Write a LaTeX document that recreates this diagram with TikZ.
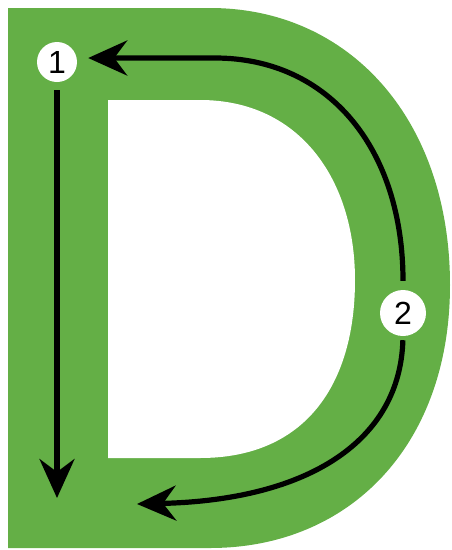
\documentclass[tikz,border=0pt]{standalone}
\usepackage{fontspec}
\setmainfont{Liberation Sans}
\usetikzlibrary{arrows.meta}
\definecolor{dgreen}{RGB}{100,175,70}

\begin{document}
\begin{tikzpicture}[
  x=1pt, y=-1pt,
  num/.style={circle, fill=white, inner sep=0pt, minimum size=40pt, font=\fontsize{32}{32}\selectfont},
  arr/.style={-{Stealth[length=39pt, width=35pt, inset=13pt]}, line width=5.2pt}
]
\useasboundingbox (0,0) rectangle (452,550);
% letter D
\fill[dgreen] (8,8) -- (210,8) .. controls (350,8) and (450,120) .. (450,285)
  .. controls (450,445) and (350,548) .. (210,548) -- (8,548) -- cycle;
\fill[white] (108,100) -- (200,100) .. controls (300,100) and (355,180) .. (355,280)
  .. controls (355,385) and (305,458) .. (200,458) -- (108,458) -- cycle;

\node[num] (n1) at (57,62) {1};
\node[num, minimum size=46pt] (n2) at (403,313) {2};
\coordinate (end1) at (57,498);
\coordinate (end2) at (137,504);

\draw[arr, shorten <=8pt] (n1.south) -- (end1);
\draw[arr, shorten <=9pt, shorten >=11pt] (n2.north) .. controls (403,150) and (330,58) .. (215,58) -- ([yshift=4pt]n1.east);
\draw[arr, shorten <=4pt] (n2.south) .. controls (400,440) and (310,500) .. (end2);
\end{tikzpicture}
\end{document}
